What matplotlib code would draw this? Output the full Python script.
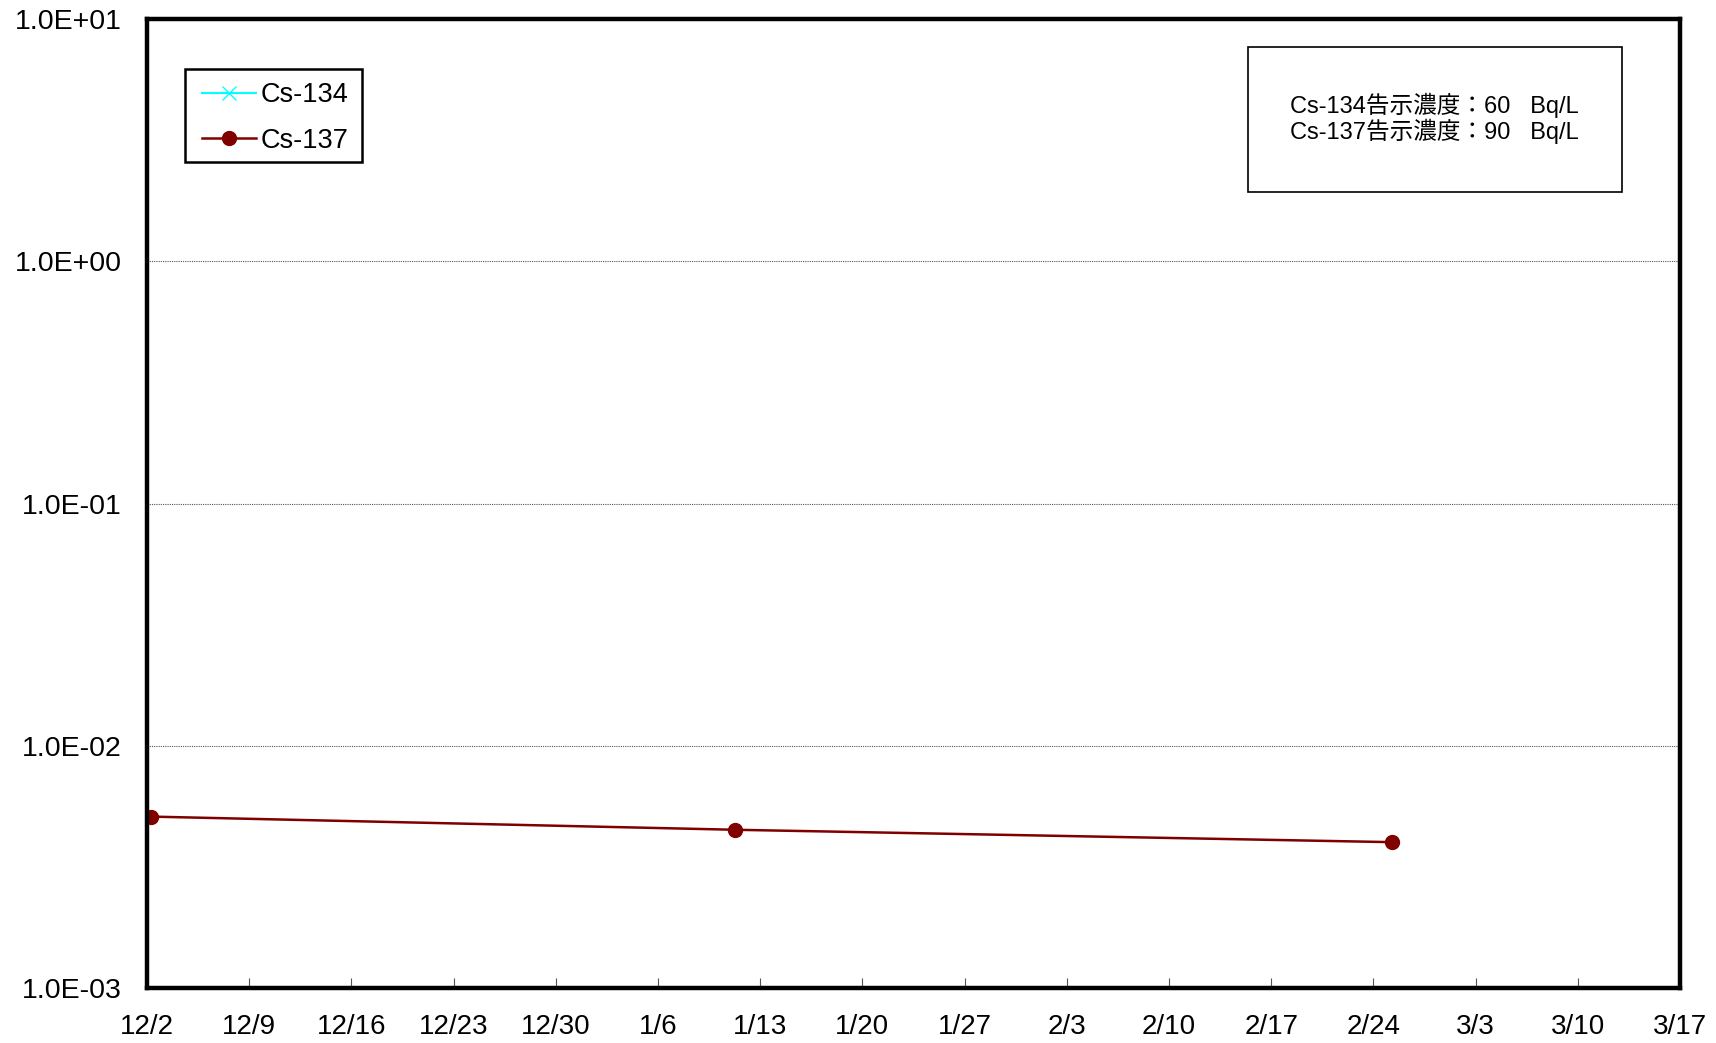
import datetime as dt
import matplotlib
matplotlib.use("Agg")
import matplotlib.pyplot as plt
import matplotlib.dates as mdates
from matplotlib.patches import Rectangle
from matplotlib.ticker import FixedLocator, FuncFormatter

plt.rcParams['font.family'] = ['Liberation Sans', 'Noto Sans CJK JP', 'DejaVu Sans']

# data (Bq/L), Cs-134 not detected
cs134_dates = []
cs134_vals = []
cs137_dates = [dt.datetime(2024, 12, 2, 6), dt.datetime(2025, 1, 11, 6), dt.datetime(2025, 2, 25, 6)]
cs137_vals = [5.1e-3, 4.5e-3, 4.0e-3]

x_start = dt.datetime(2024, 12, 2)
x_end = dt.datetime(2025, 3, 17)
y_ticks = [1e-3, 1e-2, 1e-1, 1e0, 1e1]
y_labels = ["1.0E-03", "1.0E-02", "1.0E-01", "1.0E+00", "1.0E+01"]
note_lines = ["Cs-134告示濃度：60   Bq/L", "Cs-137告示濃度：90   Bq/L"]

fig = plt.figure(figsize=(17.16, 10.43), dpi=100)
ax = fig.add_axes([147/1716, 1-988/1043, (1680-147)/1716, (988-19)/1043])

ax.plot(cs134_dates, cs134_vals, color='#00ffff', marker='x', lw=1.5, ms=10, label='Cs-134')
ax.plot(cs137_dates, cs137_vals, color='#800000', marker='o', lw=1.8, ms=10, label='Cs-137')

ax.set_yscale('log')
ax.set_ylim(1e-3, 1e1)
ax.set_xlim(x_start, x_end)

ax.yaxis.set_major_locator(FixedLocator(y_ticks))
ax.yaxis.set_minor_locator(FixedLocator([]))
ax.set_yticklabels(y_labels)
ax.tick_params(axis='y', length=0, pad=18, labelsize=20.5)

xt = [x_start + dt.timedelta(days=7*i) for i in range(16)]
ax.set_xticks(xt)
ax.xaxis.set_major_formatter(FuncFormatter(lambda v, p: "%d/%d" % (mdates.num2date(v).month, mdates.num2date(v).day)))
ax.tick_params(axis='x', direction='in', length=7, width=0.8, color='#555555', pad=19, labelsize=20)

for y in [1e-2, 1e-1, 1e0]:
    ax.axhline(y, color='#555555', lw=0.8, ls=(0, (1, 1)), zorder=0)

for s in ax.spines.values():
    s.set_linewidth(3.2)

# legend with its own frame
ax.add_patch(Rectangle((0.0248, 0.8524), 0.1155, 0.096, transform=ax.transAxes,
                       fc='white', ec='black', lw=1.8, zorder=5))
leg = ax.legend(loc='center left', bbox_to_anchor=(0.0359, 0.898), borderaxespad=0,
                borderpad=0, fontsize=19.5, frameon=False,
                handlelength=2.0, handletextpad=0.15, labelspacing=0.72)
leg.set_zorder(6)

# note box
ax.add_patch(Rectangle((0.7182, 0.8215), 0.244, 0.1496, transform=ax.transAxes,
                       fc='white', ec='black', lw=1.2, zorder=5))
ax.text(0.7456, 0.9107, note_lines[0], transform=ax.transAxes, fontsize=17,
        ha='left', va='center', zorder=6)
ax.text(0.7456, 0.8839, note_lines[1], transform=ax.transAxes, fontsize=17,
        ha='left', va='center', zorder=6)

fig.savefig("out.png", dpi=100)
